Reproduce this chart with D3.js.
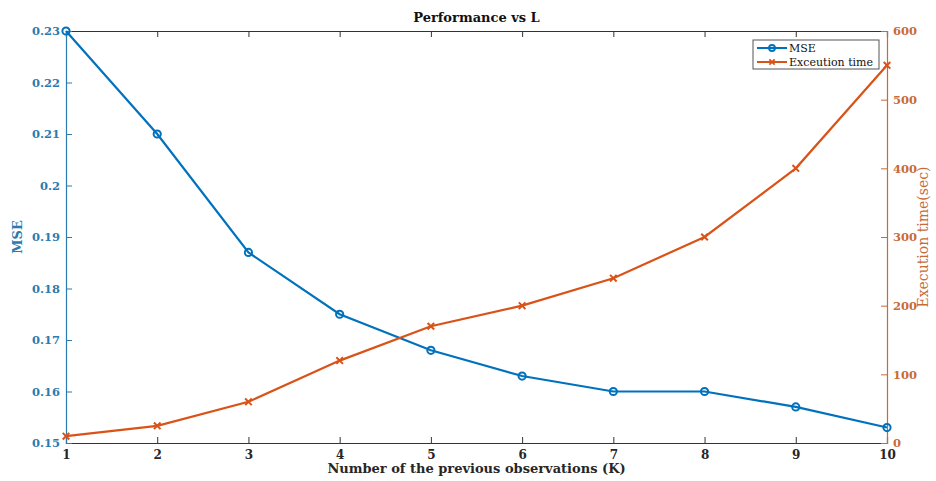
<!DOCTYPE html>
<html>
<head>
<meta charset="utf-8">
<script src="https://cdn.jsdelivr.net/npm/d3@7"></script>
<style>
  body { margin: 0; background: #fff; }
  text { font-family: "DejaVu Serif", "Liberation Serif", serif; }
</style>
</head>
<body>
<div id="chart"></div>
<script>
// data
var kValues = [1, 2, 3, 4, 5, 6, 7, 8, 9, 10];
var mseValues = [0.23, 0.21, 0.187, 0.175, 0.168, 0.163, 0.16, 0.16, 0.157, 0.153];
var timeValues = [10, 25, 60, 120, 170, 200, 240, 300, 400, 550];
var mseTicks = [0.15, 0.16, 0.17, 0.18, 0.19, 0.2, 0.21, 0.22, 0.23];
var timeTicks = [0, 100, 200, 300, 400, 500, 600];

var width = 936, height = 481;
var margin = {top: 31, right: 49, bottom: 38, left: 66};
var blue = "#0072BD", orange = "#D95319";
var blueText = "#2C7BB0", orangeText = "#C96A36";

var svg = d3.select("#chart").append("svg")
    .attr("width", width)
    .attr("height", height);

/************* scales ***************/
var x = d3.scaleLinear().domain([1, 10]).range([margin.left, width - margin.right]);
var yL = d3.scaleLinear().domain([0.15, 0.23]).range([height - margin.bottom, margin.top]);
var yR = d3.scaleLinear().domain([0, 600]).range([height - margin.bottom, margin.top]);

/************* axes ***************/
var xBottom = svg.append("g")
    .attr("transform", "translate(0," + (height - margin.bottom) + ")")
    .call(d3.axisBottom(x).tickValues(kValues).tickSize(-6).tickPadding(7).tickFormat(d3.format("d")));
var xTop = svg.append("g")
    .attr("transform", "translate(0," + margin.top + ")")
    .call(d3.axisTop(x).tickValues(kValues).tickSize(-6).tickFormat(""));
[xBottom, xTop].forEach(function(g) {
    g.select(".domain").attr("stroke", "#333").attr("stroke-width", 1.2);
    g.selectAll(".tick line").attr("stroke", "#333");
    g.selectAll(".tick text").attr("fill", "#262626").style("font-size", "12px").style("font-weight", "bold");
});

var yLeft = svg.append("g")
    .attr("transform", "translate(" + margin.left + ",0)")
    .call(d3.axisLeft(yL).tickValues(mseTicks).tickSize(-6).tickPadding(6)
        .tickFormat(function(d) { return d3.format("")(+d.toFixed(2)); }));
yLeft.select(".domain").attr("stroke", blueText).attr("stroke-width", 1.2);
yLeft.selectAll(".tick line").attr("stroke", blueText);
yLeft.selectAll(".tick text").attr("fill", blueText).style("font-size", "11.5px").style("font-weight", "bold");

var yRight = svg.append("g")
    .attr("transform", "translate(" + (width - margin.right) + ",0)")
    .call(d3.axisRight(yR).tickValues(timeTicks).tickSize(-6).tickPadding(6));
yRight.select(".domain").attr("stroke", orangeText).attr("stroke-width", 1.2);
yRight.selectAll(".tick line").attr("stroke", orangeText);
yRight.selectAll(".tick text").attr("fill", orangeText).style("font-size", "11.5px").style("font-weight", "bold");

/************* labels ***************/
svg.append("text")
    .attr("x", (margin.left + width - margin.right) / 2)
    .attr("y", 22)
    .attr("text-anchor", "middle")
    .attr("fill", "#111")
    .style("font-size", "13px").style("font-weight", "bold")
    .text("Performance vs L");

svg.append("text")
    .attr("x", (margin.left + width - margin.right) / 2)
    .attr("y", 473)
    .attr("text-anchor", "middle")
    .attr("fill", "#262626")
    .style("font-size", "13px").style("font-weight", "bold")
    .text("Number of the previous observations (K)");

svg.append("text")
    .attr("transform", "translate(22," + ((margin.top + height - margin.bottom) / 2) + ") rotate(-90)")
    .attr("text-anchor", "middle")
    .attr("fill", blueText)
    .style("font-size", "13px").style("font-weight", "bold")
    .text("MSE");

svg.append("text")
    .attr("transform", "translate(928," + ((margin.top + height - margin.bottom) / 2) + ") rotate(-90)")
    .attr("text-anchor", "middle")
    .attr("fill", orangeText)
    .style("font-size", "14px")
    .text("Execution time(sec)");

/************* series ***************/
var mseLine = d3.line().x(function(d, i) { return x(kValues[i]); }).y(function(d) { return yL(d); });
var timeLine = d3.line().x(function(d, i) { return x(kValues[i]); }).y(function(d) { return yR(d); });

svg.append("path").datum(mseValues)
    .attr("d", mseLine).attr("fill", "none").attr("stroke", blue).attr("stroke-width", 2.2);
svg.append("path").datum(timeValues)
    .attr("d", timeLine).attr("fill", "none").attr("stroke", orange).attr("stroke-width", 2.2);

svg.append("g").selectAll("circle")
    .data(mseValues)
    .enter().append("circle")
        .attr("cx", function(d, i) { return x(kValues[i]); })
        .attr("cy", function(d) { return yL(d); })
        .attr("r", 3.6)
        .attr("fill", "none").attr("stroke", blue).attr("stroke-width", 2);

var cross = d3.symbol().type(d3.symbolX).size(30);
svg.append("g").selectAll("path")
    .data(timeValues)
    .enter().append("path")
        .attr("transform", function(d, i) { return "translate(" + x(kValues[i]) + "," + yR(d) + ")"; })
        .attr("d", cross)
        .attr("fill", "none").attr("stroke", orange).attr("stroke-width", 2);

/************* legend ***************/
var legend = svg.append("g").attr("transform", "translate(753,40)");
legend.append("rect")
    .attr("width", 126).attr("height", 29)
    .attr("fill", "#fff").attr("stroke", "#555").attr("stroke-width", 1);
var items = [{name: "MSE", color: blue, mark: "o"}, {name: "Exceution time", color: orange, mark: "x"}];
items.forEach(function(it, i) {
    var yy = 8 + i * 14;
    legend.append("line").attr("x1", 4).attr("x2", 34).attr("y1", yy).attr("y2", yy)
        .attr("stroke", it.color).attr("stroke-width", 2);
    if (it.mark == "o") {
        legend.append("circle").attr("cx", 19).attr("cy", yy).attr("r", 3)
            .attr("fill", "none").attr("stroke", it.color).attr("stroke-width", 1.8);
    } else {
        legend.append("path").attr("transform", "translate(19," + yy + ")")
            .attr("d", d3.symbol().type(d3.symbolX).size(20))
            .attr("fill", "none").attr("stroke", it.color).attr("stroke-width", 1.8);
    }
    legend.append("text").attr("x", 36).attr("y", yy + 4)
        .attr("fill", "#111").style("font-size", "11px")
        .text(it.name);
});
</script>
</body>
</html>
